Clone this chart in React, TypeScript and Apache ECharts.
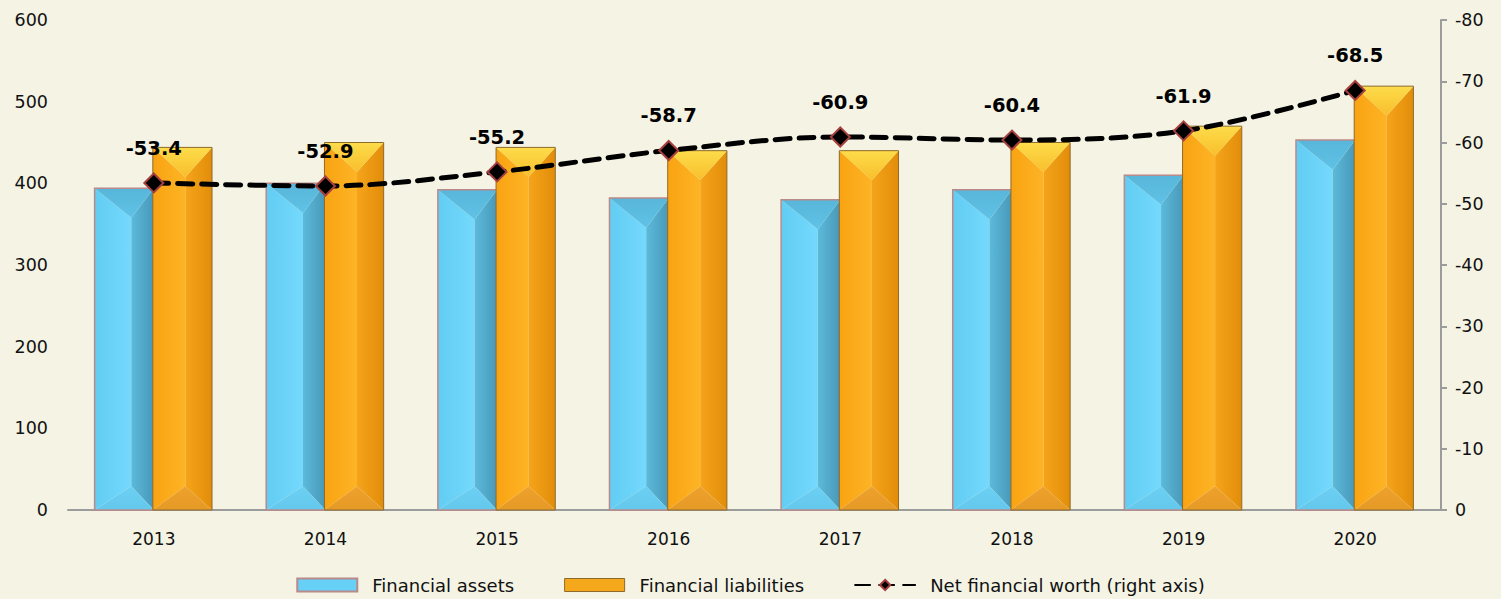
import React, { useEffect, useRef } from "react";
import * as echarts from "echarts";

const years = ["2013", "2014", "2015", "2016", "2017", "2018", "2019", "2020"];
const financialAssets = [394, 400, 392, 382, 380, 392, 410, 453];
const financialLiabilities = [444, 450, 444, 440, 440, 450, 470, 519];
const netFinancialWorth = [-53.4, -52.9, -55.2, -58.7, -60.9, -60.4, -61.9, -68.5];
const leftTicks = { min: 0, max: 600, interval: 100 };
const rightTicks = { min: -80, max: 0, interval: 10 };

const FONT = "DejaVu Sans";

const lg = (x0: number, y0: number, x1: number, y1: number, c0: string, c1: string) => ({
  type: "linear",
  x: x0,
  y: y0,
  x2: x1,
  y2: y1,
  global: true,
  colorStops: [
    { offset: 0, color: c0 },
    { offset: 1, color: c1 },
  ],
});

const palettes: any = {
  assets: {
    left: ["#62CCF2", "#74D9FD"],
    right: ["#5CBADB", "#4898B8"],
    top: ["#58B6DA", "#5FC2E6"],
    bottom: ["#6BD0F4", "#64C8EC"],
    stroke: "#B88A8C",
    lineWidth: 1.5,
    split: 0.62,
  },
  liab: {
    left: ["#F9A312", "#FDB425"],
    right: ["#F5A41A", "#E28D0A"],
    top: ["#FDDC4A", "#F8BE2C"],
    bottom: ["#EEA22C", "#E69A26"],
    stroke: "#8E6A2C",
    lineWidth: 1,
    split: 0.55,
  },
};

function makeRender(kind: "assets" | "liab") {
  const p = palettes[kind];
  return (params: any, api: any) => {
    const idx = api.value(0);
    const v = api.value(1);
    const top = api.coord([idx, v]);
    const bot = api.coord([idx, 0]);
    const cw = api.size([1, 0])[0];
    const w = cw * 0.345;
    const cx = top[0];
    let x0: number, x1: number;
    if (kind === "assets") {
      x0 = cx - w;
      x1 = cx;
    } else {
      x0 = cx - 1;
      x1 = cx - 1 + w;
    }
    const y0 = top[1];
    const yb = bot[1];
    const xm = x0 + (x1 - x0) * p.split;
    const d = Math.min(w / 2, (yb - y0) / 2);
    const db = d * 0.8;
    return {
      type: "group",
      children: [
        {
          type: "polygon",
          shape: { points: [[x0, y0], [xm, y0 + d], [xm, yb - db], [x0, yb]] },
          style: { fill: lg(x0, 0, xm, 0, p.left[0], p.left[1]) },
        },
        {
          type: "polygon",
          shape: { points: [[x1, y0], [xm, y0 + d], [xm, yb - db], [x1, yb]] },
          style: { fill: lg(xm, 0, x1, 0, p.right[0], p.right[1]) },
        },
        {
          type: "polygon",
          shape: { points: [[x0, y0], [x1, y0], [xm, y0 + d]] },
          style: { fill: lg(0, y0, 0, y0 + d, p.top[0], p.top[1]) },
        },
        {
          type: "polygon",
          shape: { points: [[x0, yb], [x1, yb], [xm, yb - db]] },
          style: { fill: lg(0, yb - db, 0, yb, p.bottom[0], p.bottom[1]) },
        },
        {
          type: "rect",
          shape: { x: x0, y: y0, width: x1 - x0, height: yb - y0 },
          style: { fill: "none", stroke: p.stroke, lineWidth: p.lineWidth },
        },
      ],
    };
  };
}

export default function App() {
  const ref = useRef<HTMLDivElement>(null);
  useEffect(() => {
    document.body.style.margin = "0";
    const chart = echarts.init(ref.current!, null, { renderer: "svg" });
    const option: any = {
      animation: false,
      backgroundColor: "#F4F3E4",
      textStyle: { fontFamily: FONT },
      grid: { left: 68, right: 60, top: 20, bottom: 89 },
      legend: {
        bottom: 0,
        left: "center",
        itemWidth: 60,
        itemHeight: 13,
        itemGap: 50,
        textStyle: { fontFamily: FONT, fontSize: 18, color: "#111", padding: [0, 0, 0, 10] },
        data: [
          {
            name: "Financial assets",
            icon: "rect",
            itemStyle: { color: "#66D0F6", borderColor: "#B88A8C", borderWidth: 2 },
          },
          {
            name: "Financial liabilities",
            icon: "rect",
            itemStyle: { color: "#F6A81C", borderColor: "#8E6A2C", borderWidth: 1 },
          },
          { name: "Net financial worth (right axis)" },
        ],
      },
      xAxis: {
        type: "category",
        data: years,
        axisLine: { show: true, lineStyle: { color: "#9C9C9C", width: 2 } },
        axisTick: { show: false },
        axisLabel: { fontFamily: FONT, fontSize: 17, color: "#111", margin: 20 },
      },
      yAxis: [
        {
          type: "value",
          min: leftTicks.min,
          max: leftTicks.max,
          interval: leftTicks.interval,
          axisLine: { show: false },
          axisTick: { show: false },
          splitLine: { show: false },
          axisLabel: { fontFamily: FONT, fontSize: 17.5, color: "#111", margin: 20 },
        },
        {
          type: "value",
          position: "right",
          inverse: true,
          min: rightTicks.min,
          max: rightTicks.max,
          interval: rightTicks.interval,
          axisLine: { show: true, lineStyle: { color: "#9C9C9C", width: 2 } },
          axisTick: { show: true, inside: false, length: 6, lineStyle: { color: "#9C9C9C", width: 2 } },
          splitLine: { show: false },
          axisLabel: { fontFamily: FONT, fontSize: 17.5, color: "#111", margin: 14 },
        },
      ],
      series: [
        {
          name: "Financial assets",
          type: "custom",
          renderItem: makeRender("assets"),
          encode: { x: 0, y: 1 },
          itemStyle: { color: "#66D0F6", borderColor: "#B88A8C" },
          data: financialAssets.map((v, i) => [i, v]),
          z: 2,
        },
        {
          name: "Financial liabilities",
          type: "custom",
          renderItem: makeRender("liab"),
          encode: { x: 0, y: 1 },
          itemStyle: { color: "#F6A81C", borderColor: "#8E6A2C" },
          data: financialLiabilities.map((v, i) => [i, v]),
          z: 3,
        },
        {
          name: "Net financial worth (right axis)",
          type: "line",
          yAxisIndex: 1,
          data: netFinancialWorth,
          smooth: 0.35,
          symbol: "diamond",
          symbolSize: 19,
          z: 10,
          lineStyle: { color: "#000", width: 5, type: [15, 9], cap: "round" },
          itemStyle: { color: "#000", borderColor: "#A5403F", borderWidth: 2 },
          label: {
            show: true,
            position: "top",
            distance: 14,
            fontFamily: FONT,
            fontSize: 19.5,
            fontWeight: "bold",
            color: "#000",
            formatter: (p: any) => p.value.toFixed(1),
          },
        },
      ],
    };
    chart.setOption(option);
    return () => chart.dispose();
  }, []);
  return <div ref={ref} style={{ width: 1501, height: 599 }} />;
}
